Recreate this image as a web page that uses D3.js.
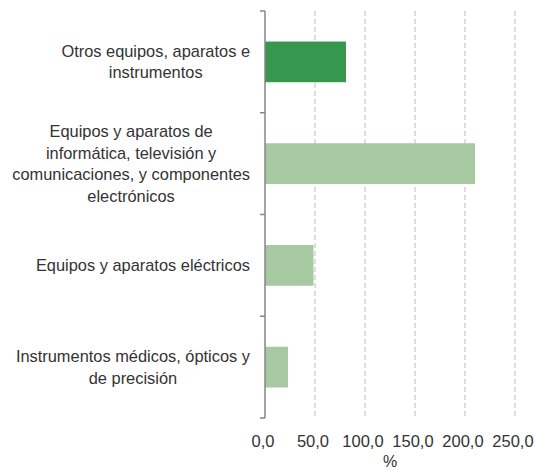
<!DOCTYPE html>
<html><head><meta charset="utf-8">
<script src="https://cdn.jsdelivr.net/npm/d3@7"></script>
<style>body{margin:0;background:#fff}text{font-family:"Liberation Sans",Arial,sans-serif;fill:#333}</style>
</head><body><svg id="c" width="535" height="470"></svg>
<script>
const categories = [
  ["Otros equipos, aparatos e", "instrumentos"],
  ["Equipos y aparatos de", "informática, televisión y", "comunicaciones, y componentes", "electrónicos"],
  ["Equipos y aparatos eléctricos"],
  ["Instrumentos médicos, ópticos y", "de precisión"]
];
const values = [81, 210, 48.5, 23];
const colors = ["#36984f", "#a6c9a2", "#a6c9a2", "#a6c9a2"];
const xTicks = [0, 50, 100, 150, 200, 250];
const xLabel = "%";

const svg = d3.select("#c");
const x = d3.scaleLinear().domain([0, 250]).range([265, 515]);
const y = d3.scaleBand().domain(d3.range(categories.length)).range([11, 418]).paddingInner(0.6).paddingOuter(0.3);

// grid
svg.append("g").selectAll("line").data(xTicks.slice(1)).join("line")
  .attr("x1", d => x(d)).attr("x2", d => x(d)).attr("y1", 11).attr("y2", 418)
  .attr("stroke", "#c8c8c8").attr("stroke-width", 1.2).attr("stroke-dasharray", "5,3");

// bars
svg.append("g").selectAll("rect").data(values).join("rect")
  .attr("x", x(0)).attr("y", (d, i) => y(i)).attr("width", d => x(d) - x(0)).attr("height", y.bandwidth())
  .attr("fill", (d, i) => colors[i]);

// y axis
const step = (418 - 11) / categories.length;
const yAxis = svg.append("g");
yAxis.append("line").attr("x1", 265).attr("x2", 265).attr("y1", 11).attr("y2", 418).attr("stroke", "#868686").attr("stroke-width", 1.5);
yAxis.selectAll("line.t").data(d3.range(categories.length + 1)).join("line").attr("class", "t")
  .attr("x1", 260).attr("x2", 265).attr("y1", d => 11 + d * step).attr("y2", d => 11 + d * step)
  .attr("stroke", "#868686").attr("stroke-width", 1.5);

// category labels
const lh = 21.5;
categories.forEach((lines, i) => {
  const cy = y(i) + y.bandwidth() / 2;
  const g = svg.append("g");
  const texts = lines.map((l, j) => g.append("text").attr("font-size", 16.4).attr("text-anchor", "middle")
    .attr("y", cy + (j - (lines.length - 1) / 2) * lh).attr("dy", "0.35em").text(l));
  const w = d3.max(texts, t => t.node().getComputedTextLength());
  texts.forEach(t => t.attr("x", 250 - w / 2));
});

// x tick labels
svg.append("g").selectAll("text").data(xTicks).join("text")
  .attr("x", d => x(d) - 2).attr("y", 441).attr("dy", "0.35em").attr("text-anchor", "middle").attr("font-size", 16.5)
  .text(d => d3.format(".1f")(d).replace(".", ","));
svg.append("text").attr("x", 390).attr("y", 461).attr("dy", "0.35em").attr("text-anchor", "middle").attr("font-size", 16).text(xLabel);
</script></body></html>
